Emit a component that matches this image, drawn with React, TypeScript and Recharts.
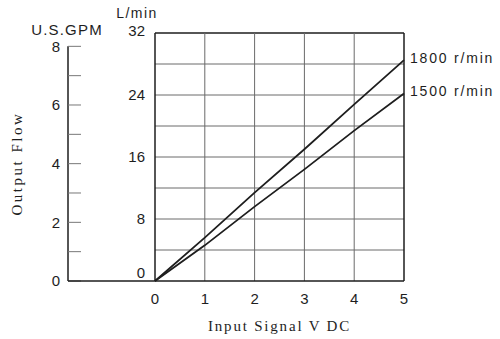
import { LineChart, Line, XAxis, YAxis, ReferenceLine } from 'recharts';

// values
const signalVolts = [0, 1, 2, 3, 4, 5];
const flow1800 = [0, 5.6, 11.4, 17.0, 22.8, 28.5];
const flow1500 = [0, 4.6, 9.6, 14.4, 19.4, 24.2];
const seriesNames = ['1800 r/min', '1500 r/min'];

const voltTicks = [0, 1, 2, 3, 4, 5];
const lpmTicks = [0, 4, 8, 12, 16, 20, 24, 28, 32];
const lpmLabels = [0, 8, 16, 24, 32];
const gpmTicks = [0, 1, 2, 3, 4, 5, 6, 7, 8];
const gpmLabels = [0, 2, 4, 6, 8];

const LITERS_PER_GALLON = 3.785;

const W = 500;
const H = 339;
const PLOT_TOP = 33;
const PLOT_BOTTOM = 281;
const PLOT_LEFT = 155;
const PLOT_RIGHT = 404;
const GPM_AXIS_X = 68;
const X_AXIS_H = H - PLOT_BOTTOM;
// top of the GPM axis so that 8 GPM lines up with the L/min scale
const GPM_TOP =
  PLOT_BOTTOM - ((PLOT_BOTTOM - PLOT_TOP) * 8 * LITERS_PER_GALLON) / 32;

const INK = '#1e1e1e';
const GRID = '#6a6a6a';
const SANS = '"Liberation Sans", Arial, sans-serif';
const SERIF = '"Liberation Serif", "Times New Roman", serif';

const data = signalVolts.map((v, i) => ({
  v,
  r1800: flow1800[i],
  r1500: flow1500[i],
  g1800: flow1800[i] / LITERS_PER_GALLON,
}));

function LpmTick({ x, y, payload }: any) {
  const v = payload.value;
  if (!lpmLabels.includes(v)) return null;
  const shift = v === 0 ? -8 : v === 32 ? -2 : 0;
  return (
    <text x={x - 8} y={y + shift} dy="0.36em" textAnchor="end" fontSize={15} fill={INK} fontFamily={SANS}>
      {v}
    </text>
  );
}

function GpmTick({ x, y, payload }: any) {
  const v = payload.value;
  return (
    <g>
      <line x1={x + 8} x2={x + 21} y1={y} y2={y} stroke="#777" strokeWidth={1} />
      {v === 0 && (
        <line x1={x + 8} x2={x + 8 + PLOT_LEFT - GPM_AXIS_X} y1={y} y2={y} stroke={INK} strokeWidth={1.5} />
      )}
      {gpmLabels.includes(v) && (
        <text x={x} y={y} dy="0.36em" textAnchor="end" fontSize={15} fill={INK} fontFamily={SANS}>
          {v}
        </text>
      )}
    </g>
  );
}

const endLabel = (name: string) => (props: any) => {
  const { x, y, index } = props;
  if (index !== signalVolts.length - 1) return null;
  return (
    <text x={x + 6} y={y + 3} fontSize={14} letterSpacing={1.8} fill={INK} fontFamily={SANS}>
      {name}
    </text>
  );
};

export default function App() {
  return (
    <div style={{ position: 'absolute', left: 0, top: 0, width: W, height: H, background: '#fff' }}>
      <div style={{ position: 'absolute', left: 0, top: 0 }}>
        <LineChart
          width={W}
          height={H}
          data={data}
          margin={{ top: PLOT_TOP, right: W - PLOT_RIGHT, bottom: 0, left: 0 }}
        >
          <XAxis
            dataKey="v"
            type="number"
            domain={[0, 5]}
            ticks={voltTicks}
            tickLine={false}
            tickMargin={6}
            height={X_AXIS_H}
            axisLine={{ stroke: INK, strokeWidth: 1.5 }}
            tick={{ fontSize: 15, fill: INK, fontFamily: SANS }}
            label={{
              content: ({ viewBox }: any) => (
                <text
                  x={viewBox.x + viewBox.width / 2}
                  y={viewBox.y + viewBox.height - 8}
                  textAnchor="middle"
                  fontSize={15}
                  letterSpacing={1.8}
                  fill={INK}
                  fontFamily={SERIF}
                >
                  Input Signal V DC
                </text>
              ),
            }}
          />
          <YAxis
            yAxisId="lpm"
            type="number"
            domain={[0, 32]}
            ticks={lpmTicks}
            width={PLOT_LEFT}
            tickSize={0}
            tickLine={false}
            axisLine={{ stroke: INK, strokeWidth: 1.5 }}
            tick={<LpmTick />}
            label={{
              content: ({ viewBox }: any) => (
                <text
                  x={viewBox.x + viewBox.width - 18}
                  y={viewBox.y - 15}
                  textAnchor="middle"
                  fontSize={14}
                  letterSpacing={1.5}
                  fill={INK}
                  fontFamily={SANS}
                >
                  L/min
                </text>
              ),
            }}
          />
          {lpmTicks
            .filter((v) => v > 0)
            .map((v) => (
              <ReferenceLine
                key={`h${v}`}
                yAxisId="lpm"
                y={v}
                stroke={v === 32 ? INK : GRID}
                strokeWidth={v === 32 ? 1.5 : 1}
              />
            ))}
          {voltTicks
            .filter((v) => v > 0)
            .map((v) => (
              <ReferenceLine
                key={`v${v}`}
                yAxisId="lpm"
                x={v}
                stroke={v === 5 ? INK : GRID}
                strokeWidth={v === 5 ? 1.5 : 1}
              />
            ))}
          <Line
            yAxisId="lpm"
            type="linear"
            dataKey="r1800"
            name={seriesNames[0]}
            stroke={INK}
            strokeWidth={1.8}
            dot={false}
            label={endLabel(seriesNames[0])}
            isAnimationActive={false}
          />
          <Line
            yAxisId="lpm"
            type="linear"
            dataKey="r1500"
            name={seriesNames[1]}
            stroke={INK}
            strokeWidth={1.8}
            dot={false}
            label={endLabel(seriesNames[1])}
            isAnimationActive={false}
          />
        </LineChart>
      </div>
      <div style={{ position: 'absolute', left: 0, top: 0 }}>
        <LineChart
          width={PLOT_LEFT}
          height={H}
          data={data}
          margin={{ top: GPM_TOP, right: 0, bottom: X_AXIS_H - 1, left: 0 }}
        >
          <XAxis
            dataKey="v"
            type="number"
            domain={[0, 5]}
            tick={false}
            tickLine={false}
            height={1}
            axisLine={false}
          />
          <YAxis
            type="number"
            domain={[0, 8]}
            allowDataOverflow
            ticks={gpmTicks}
            width={GPM_AXIS_X}
            tickSize={0}
            tickMargin={8}
            tickLine={false}
            axisLine={{ stroke: INK, strokeWidth: 1.5 }}
            tick={<GpmTick />}
            label={{
              content: ({ viewBox }: any) => (
                <g>
                  <text
                    x={viewBox.x + viewBox.width - 1}
                    y={viewBox.y - 11}
                    textAnchor="middle"
                    fontSize={15}
                    letterSpacing={1.2}
                    fill={INK}
                    fontFamily={SANS}
                  >
                    U.S.GPM
                  </text>
                  <text
                    transform={`translate(${viewBox.x + 17}, ${viewBox.y + viewBox.height / 2}) rotate(-90)`}
                    dy="0.35em"
                    textAnchor="middle"
                    fontSize={15}
                    letterSpacing={2.5}
                    fill={INK}
                    fontFamily={SERIF}
                  >
                    Output Flow
                  </text>
                </g>
              ),
            }}
          />
          {/* same 1800 r/min flow in GPM, kept invisible: it only drives the GPM axis */}
          <Line
            type="linear"
            dataKey="g1800"
            stroke="none"
            dot={false}
            isAnimationActive={false}
          />
        </LineChart>
      </div>
    </div>
  );
}
